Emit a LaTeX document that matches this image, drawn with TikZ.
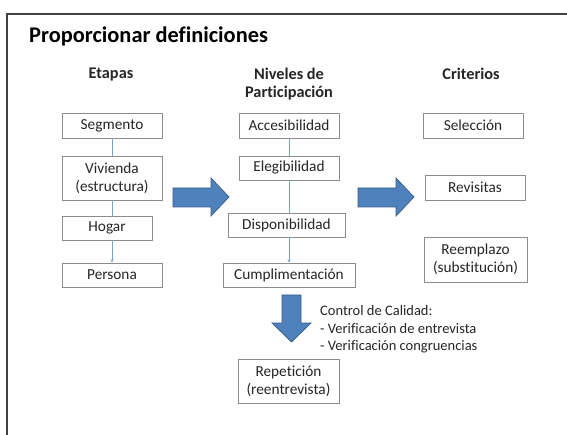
\documentclass[tikz,border=0pt]{standalone}
\usepackage{fontspec}
\setmainfont{Carlito}[Ligatures=NoCommon]
\usetikzlibrary{arrows.meta}
\definecolor{boxline}{HTML}{8C8C8C}
\definecolor{txt}{HTML}{262626}
\definecolor{arrowfill}{HTML}{4F81BD}
\definecolor{arrowline}{HTML}{385D8A}
\definecolor{conn}{HTML}{7BA0CD}
\definecolor{frame}{HTML}{404040}
\tikzset{
  stepbox/.style={draw=boxline, line width=0.7pt, fill=white, text=txt, inner sep=1pt,
    font=\fontsize{15.3}{18}\selectfont, align=center},
  header/.style={text=txt, font=\fontsize{16.3}{18.5}\selectfont\bfseries, align=center, inner sep=0pt},
  bigarrow/.style={fill=arrowfill, draw=arrowline, line width=0.7pt},
  link/.style={draw=conn, line width=0.6pt},
  linkarrow/.style={link, -{Stealth[length=3.5pt,width=3pt]}}
}
\begin{document}
\begin{tikzpicture}[x=1pt,y=-1pt]
\useasboundingbox (0,0) rectangle (567,435);
\fill[white] (0,0) rectangle (567,435);
% slide frame
\draw[frame, line width=1.6pt] (7,435) -- (7,14) -- (567,14);
% title
\node[anchor=west, text=black, inner sep=0pt, font=\fontsize{22.4}{26}\selectfont\bfseries] (title) at (29,36) {Proporcionar definiciones};
% headers
\node[header] (h1) at (111,75) {Etapas};
\node[header] (h2) at (289,84) {Niveles de\\Participación};
\node[header] (h3) at (471,74) {Criterios};
% column 1
\node[stepbox, minimum width=100pt, minimum height=25pt] (seg) at (112,125.5) {Segmento};
\node[stepbox, minimum width=100pt, minimum height=44pt] (viv) at (112,178) {Vivienda\\(estructura)};
\node[stepbox, minimum width=90pt, minimum height=24pt] (hog) at (107,228) {Hogar};
\node[stepbox, minimum width=100pt, minimum height=24pt] (per) at (112,275) {Persona};
% column 2
\node[stepbox, minimum width=100pt, minimum height=25pt] (acc) at (289,125.5) {Accesibilidad};
\node[stepbox, minimum width=100pt, minimum height=24pt] (ele) at (289,168) {Elegibilidad};
\node[stepbox, minimum width=117pt, minimum height=24pt] (dis) at (286.5,225) {Disponibilidad};
\node[stepbox, minimum width=132pt, minimum height=24pt] (cum) at (289,275) {Cumplimentación};
% column 3
\node[stepbox, minimum width=100pt, minimum height=25pt] (sel) at (473,125.5) {Selección};
\node[stepbox, minimum width=100pt, minimum height=25pt] (rev) at (475,187.5) {Revisitas};
\node[stepbox, minimum width=103pt, minimum height=45pt] (ree) at (475.5,259.5) {Reemplazo\\(substitución)};
% bottom
\node[stepbox, minimum width=101pt, minimum height=44pt] (rep) at (288.5,381) {Repetición\\(reentrevista)};
\node[anchor=west, align=left, text=txt, inner sep=0pt, font=\fontsize{14.5}{17.5}\selectfont] (qc) at (320,329.5)
  {Control de Calidad:\\- Verificación de entrevista\\- Verificación congruencias};
% connectors
\draw[link] (seg.south) -- (viv.north);
\draw[link] (viv.south) -- (viv.south |- hog.north);
\draw[linkarrow] (viv.south |- hog.south) -- (per.north);
\draw[link] (acc.south) -- (ele.north);
\draw[link] (ele.south) -- (ele.south |- dis.north);
\draw[linkarrow] (ele.south |- dis.south) -- (cum.north);
% big block arrows
\draw[bigarrow] (173,188) -- (211,188) -- (211,178) -- (229,197) -- (211,216) -- (211,207) -- (173,207) -- cycle;
\draw[bigarrow] (358,188) -- (396,188) -- (396,178) -- (414,197) -- (396,216) -- (396,207) -- (358,207) -- cycle;
\draw[bigarrow] (282,295) -- (301,295) -- (301,323) -- (311,323) -- (291.5,342) -- (272,323) -- (282,323) -- cycle;
\end{tikzpicture}
\end{document}
